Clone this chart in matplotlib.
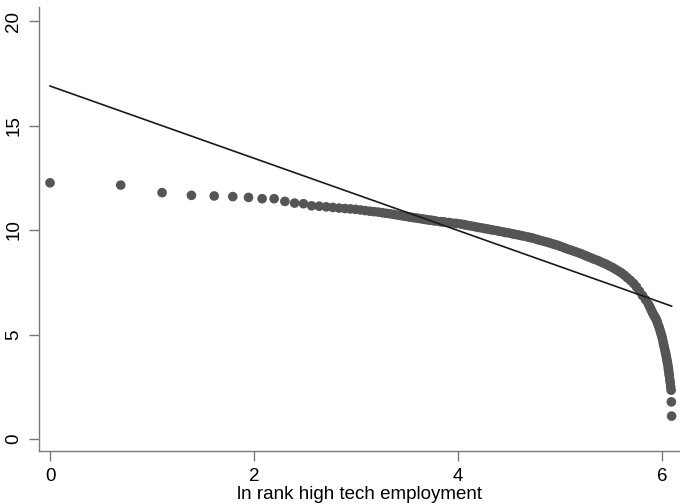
import numpy as np
import matplotlib
matplotlib.use("Agg")
import matplotlib.pyplot as plt

plt.rcParams['font.family'] = ['Liberation Sans', 'DejaVu Sans']

# rank of each area by high tech employment
ranks = [1, 2, 3, 4, 5, 6, 7, 8, 9, 10, 11, 12, 13, 14,
         15, 16, 17, 18, 19, 20, 21, 22, 23, 24, 25, 26, 27, 28, 29, 30,
         31, 32, 33, 34, 35, 36, 37, 38, 39, 40, 41, 42, 43, 44, 46, 47,
         48, 50, 51, 53, 54, 56, 58, 59, 61, 63, 65, 67, 69, 71, 73, 75,
         77, 80, 82, 85, 87, 90, 93, 95, 98, 101, 104, 108, 111, 114, 118,
         121, 125, 129, 133, 137, 141, 145, 149, 154, 158, 163, 168, 173,
         179, 184, 190, 195, 201, 207, 214, 220, 227, 233, 240, 248, 255,
         263, 271, 279, 287, 296, 305, 314, 323, 333, 343, 353, 358, 362,
         366, 370, 374, 378, 382, 385, 388, 392, 395, 398, 401, 404, 407,
         409, 412, 414, 417, 419, 421, 423, 425, 427, 429, 430, 432, 433,
         435, 437, 439, 441, 442, 443]
# ln high tech employment
ln_emp = [12.26, 12.15, 11.79, 11.66, 11.63, 11.60, 11.56, 11.50, 11.50, 11.37,
          11.29, 11.26, 11.16, 11.14,
          11.11, 11.08, 11.05, 11.03, 11.01, 10.99, 10.96, 10.93, 10.90, 10.88,
          10.86, 10.83, 10.80, 10.78, 10.75, 10.72,
          10.70, 10.67, 10.65, 10.62, 10.60, 10.58, 10.56, 10.54, 10.52, 10.50,
          10.48, 10.47, 10.45, 10.43, 10.40, 10.39,
          10.38, 10.36, 10.34, 10.32, 10.31, 10.29, 10.26, 10.24, 10.21, 10.18,
          10.15, 10.12, 10.10, 10.07, 10.05, 10.02,
          10.00, 9.97, 9.94, 9.91, 9.88, 9.86, 9.82, 9.80, 9.77, 9.74, 9.71,
          9.67, 9.64, 9.61, 9.56,
          9.52, 9.48, 9.44, 9.40, 9.35, 9.31, 9.27, 9.22, 9.16, 9.11, 9.06,
          9.01, 8.96,
          8.90, 8.85, 8.78, 8.73, 8.67, 8.61, 8.55, 8.49, 8.42, 8.37, 8.29,
          8.21, 8.13,
          8.04, 7.95, 7.84, 7.72, 7.59, 7.45, 7.28, 7.08, 6.87, 6.67, 6.45,
          6.32, 6.20,
          6.09, 5.98, 5.89, 5.80, 5.70, 5.60, 5.48, 5.35, 5.23, 5.10, 4.98,
          4.85, 4.70,
          4.55, 4.42, 4.30, 4.15, 4.05, 3.92, 3.80, 3.67, 3.55, 3.40, 3.30,
          3.15, 3.05,
          2.85, 2.70, 2.50, 2.34, 1.78, 1.10]

# fitted line  y = intercept + slope * ln(rank)
fit_intercept = 16.89
fit_slope = -1.728

x_ticks = [0, 2, 4, 6]
y_ticks = [0, 5, 10, 15, 20]
x_label = "ln rank high tech employment"

x = np.log(np.array(ranks, dtype=float))
y = np.array(ln_emp)

fig = plt.figure(figsize=(6.8, 5.04), dpi=100)
ax = fig.add_axes([39 / 680, 1 - 451 / 504, 1 - 39 / 680, (451 - 7) / 504])

ax.scatter(x, y, s=48, color='#555555', edgecolors='none', zorder=2)
xf = np.array([0.0, x.max()])
ax.plot(xf, fit_intercept + fit_slope * xf, color='#1a1a1a', lw=1.2, zorder=3)

ax.set_xlim(-0.108, 6.176)
ax.set_ylim(-0.57, 20.67)
ax.set_xticks(x_ticks)
ax.set_yticks(y_ticks)
ax.set_yticklabels([str(v) for v in y_ticks], rotation=90, va='center')
ax.set_xlabel(x_label, fontsize=13.5, labelpad=1)

for side in ['top', 'right']:
    ax.spines[side].set_visible(False)
for side in ['left', 'bottom']:
    ax.spines[side].set_color('#7a7a7a')
    ax.spines[side].set_linewidth(1.0)
ax.tick_params(axis='both', direction='out', length=7, width=1.0,
               color='#7a7a7a', labelsize=13.5, pad=5)

fig.savefig("out.png", dpi=100)
